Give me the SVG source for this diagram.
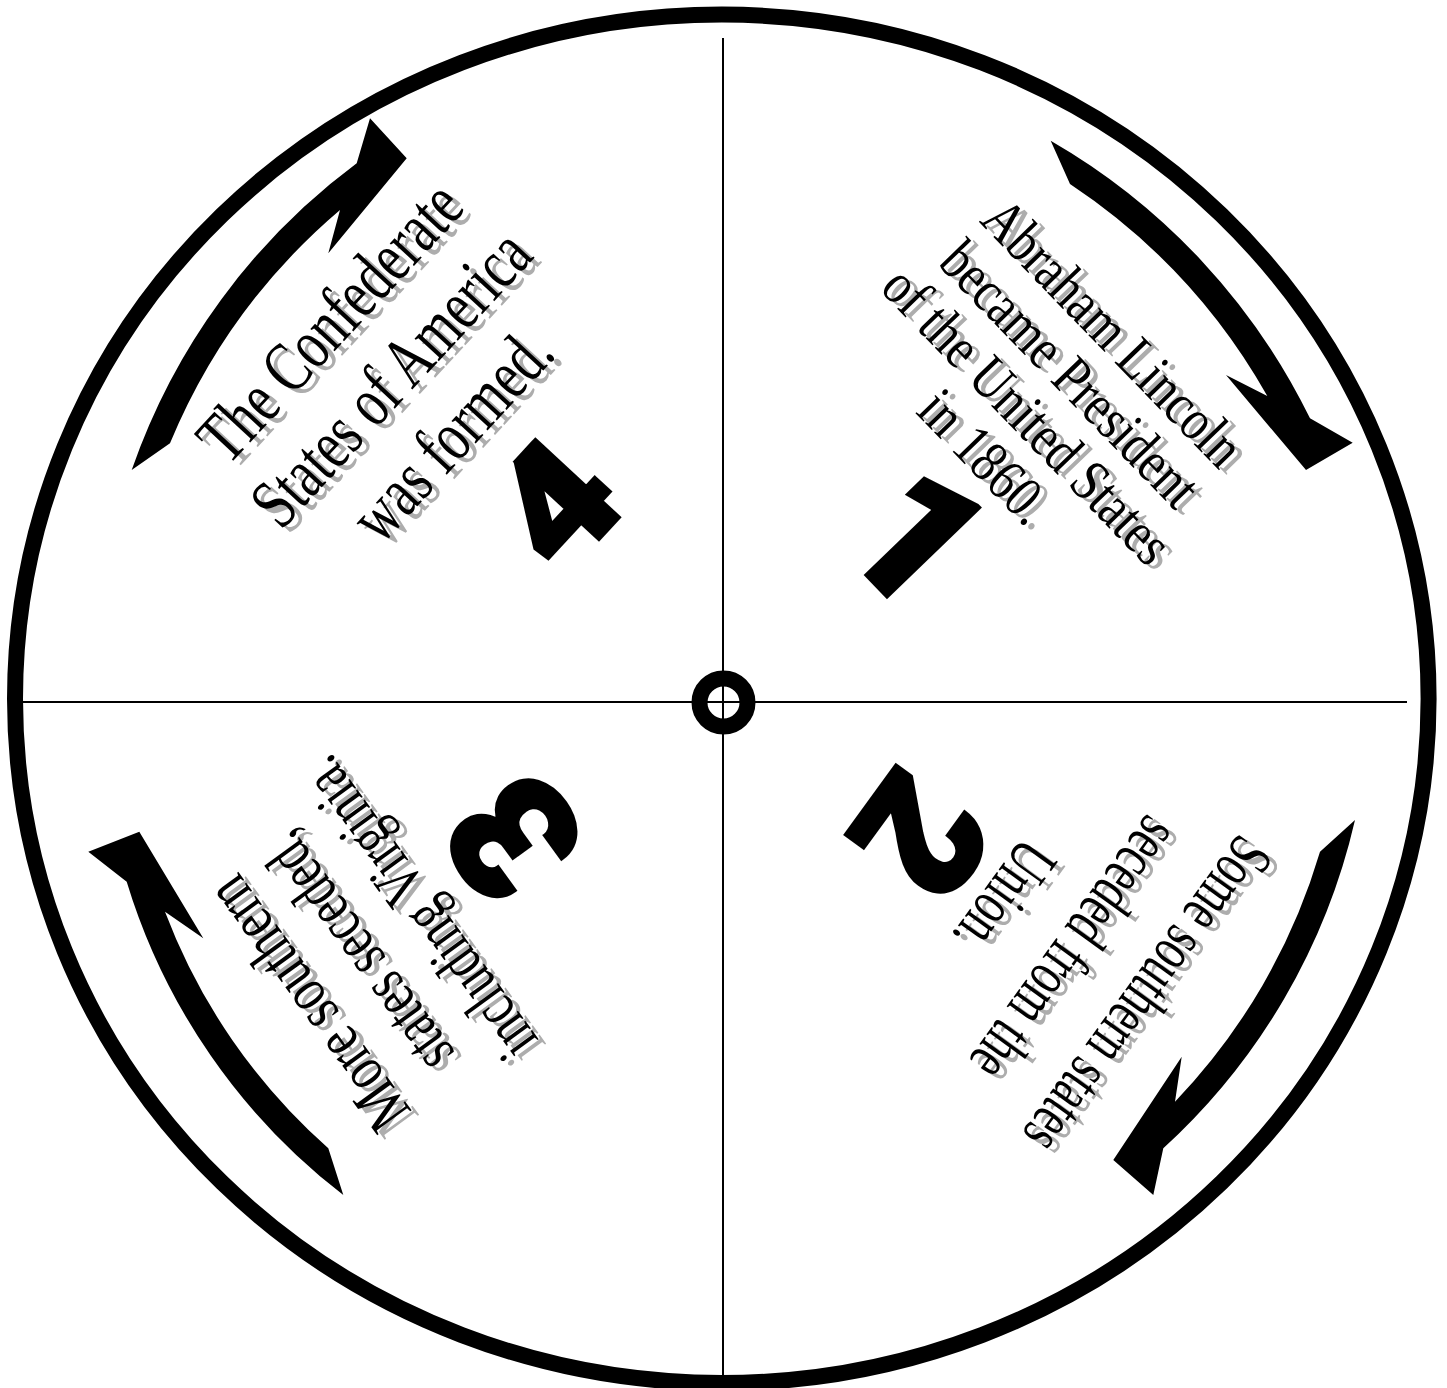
<svg xmlns="http://www.w3.org/2000/svg" width="1447" height="1388" viewBox="0 0 1447 1388">
<style>
.lbl{font-family:"Liberation Serif","Times New Roman",serif;text-anchor:middle;fill:#000}
.shd{fill:#adadad}
.num{font-family:Roboto,"Open Sans",Inter,sans-serif;font-weight:900;text-anchor:middle;fill:#000;stroke:#000;stroke-width:4;stroke-linejoin:miter}
.arr{fill:#000;stroke:none}
.thin{stroke:#000;stroke-width:2;fill:none}
</style>
<rect width="1447" height="1388" fill="#fff"/>
<g id="wheel">
<ellipse cx="721.8" cy="698.8" rx="706.8" ry="684.2" fill="none" stroke="#000" stroke-width="16"/>
<line class="thin" x1="723" y1="38" x2="723" y2="1376"/>
<line class="thin" x1="22" y1="702" x2="1407" y2="702"/>
<circle cx="723.5" cy="702.5" r="24" fill="none" stroke="#000" stroke-width="16"/>
</g>
<g id="connectors">
<path class="arr" d="M1050.7,140.7 L1070,184 A622,622 0 0 1 1267.3,396 L1226,375 L1306,470 L1352.7,442.7 L1310,418.3 A650,650 0 0 0 1050.7,140.7 Z"/>
<path class="arr" d="M1355,820 L1320,851.7 A612,612 0 0 1 1175,1101.7 L1181.7,1056.7 L1113.3,1160 L1153.3,1195 L1163.3,1148.3 A638,638 0 0 0 1355,820 Z"/>
<path class="arr" d="M343.3,1195 L328.3,1148.3 A598,598 0 0 1 165,911.7 L203.3,938.3 L139.3,831.7 L88.3,851.7 L126.7,881.7 A624,624 0 0 0 343.3,1195 Z"/>
<path class="arr" d="M131.7,470 L170,443.3 A615,615 0 0 1 340,210 L328.3,253.3 L406.7,158.3 L370,118.3 L356.7,163.3 A645,645 0 0 0 131.7,470 Z"/>
</g>
<g id="step1">
<g class="lbl shd" font-size="59" transform="translate(7.5,4.5) rotate(46) scale(0.83,1)">
<text x="1219.9" y="-550">Abraham Lincoln</text>
<text x="1219.9" y="-490.5">became President</text>
<text x="1219.9" y="-431">of the United States</text>
<text x="1219.9" y="-371.5">in 1860.</text>
</g>
<g class="lbl" font-size="59" transform="rotate(46) scale(0.83,1)">
<text x="1219.9" y="-550">Abraham Lincoln</text>
<text x="1219.9" y="-490.5">became President</text>
<text x="1219.9" y="-431">of the United States</text>
<text x="1219.9" y="-371.5">in 1860.</text>
</g>
<text class="num" font-size="180" transform="rotate(46)" x="1024" y="-223.8">1</text>
</g>
<g id="step2">
<g class="lbl shd" font-size="66" transform="translate(7.5,4.5) rotate(126) scale(0.68,1)">
<text x="192" y="-1492" textLength="548" lengthAdjust="spacingAndGlyphs">Some southern states</text>
<text x="200" y="-1406">seceded from the</text>
<text x="200" y="-1319">Union.</text>
</g>
<g class="lbl" font-size="66" transform="rotate(126) scale(0.68,1)">
<text x="192" y="-1492" textLength="548" lengthAdjust="spacingAndGlyphs">Some southern states</text>
<text x="200" y="-1406">seceded from the</text>
<text x="200" y="-1319">Union.</text>
</g>
<text class="num" font-size="172" transform="rotate(126)" x="135" y="-1174.8">2</text>
</g>
<g id="step3">
<g class="lbl shd" font-size="65" transform="translate(7.5,4.5) rotate(234) scale(0.73,1)">
<text x="-1360.4" y="-319.7" textLength="407" lengthAdjust="spacingAndGlyphs">More southern</text>
<text x="-1342.5" y="-250">states seceded,</text>
<text x="-1342.5" y="-175">including Virginia.</text>
</g>
<g class="lbl" font-size="65" transform="rotate(234) scale(0.73,1)">
<text x="-1360.4" y="-319.7" textLength="407" lengthAdjust="spacingAndGlyphs">More southern</text>
<text x="-1342.5" y="-250">states seceded,</text>
<text x="-1342.5" y="-175">including Virginia.</text>
</g>
<text class="num" font-size="172" transform="rotate(234)" x="-978.7" y="-16.3">3</text>
</g>
<g id="step4">
<g class="lbl shd" font-size="72" transform="translate(7.5,4.5) rotate(-47.2) scale(0.73,1)">
<text x="-16.4" y="484.3">The Confederate</text>
<text x="-16.4" y="567.3">States of America</text>
<text x="-16.4" y="650.3">was formed.</text>
</g>
<g class="lbl" font-size="72" transform="rotate(-47.2) scale(0.73,1)">
<text x="-16.4" y="484.3">The Confederate</text>
<text x="-16.4" y="567.3">States of America</text>
<text x="-16.4" y="650.3">was formed.</text>
</g>
<text class="num" font-size="160" transform="rotate(-47.2) scale(1.1,1)" x="6.9" y="805.6">4</text>
</g>
</svg>
